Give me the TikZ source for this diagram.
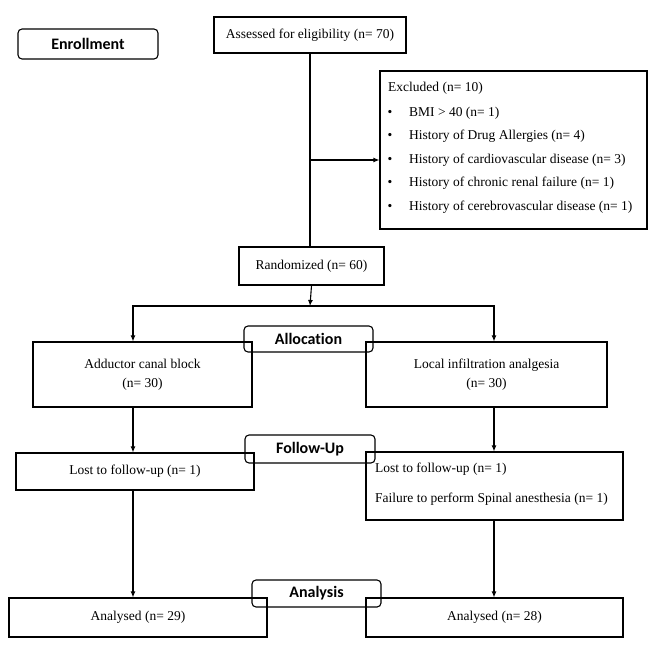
\documentclass[tikz,border=0pt]{standalone}
\usepackage{fontspec}
\setmainfont{Liberation Serif}
\newfontfamily\stagefont[Ligatures=NoCommon]{Carlito}
\usetikzlibrary{arrows.meta}

\begin{document}
\begin{tikzpicture}[x=1pt, y=-1pt, >={Latex[length=6pt,width=5pt]},
    box/.style={draw, line width=1.1pt, inner sep=2pt, align=center,
        font=\fontsize{13.5}{19}\selectfont},
    stage/.style={draw, line width=1.1pt, rounded corners=4pt, inner sep=0pt,
        font=\stagefont\bfseries\fontsize{16}{18}\selectfont},
    listtext/.style={inner sep=0pt, font=\fontsize{13.5}{15}\selectfont},
    flow/.style={->, line width=1.1pt}]

% ---------------------------------------------------------------------------
% Frame (keeps the margins of the page)
% ---------------------------------------------------------------------------
\useasboundingbox (0,0) rectangle (658,655);

% ---------------------------------------------------------------------------
% Column guides
% ---------------------------------------------------------------------------
\coordinate (lcol) at (133,0);
\coordinate (rcol) at (494,0);

% ===========================================================================
%  ENROLLMENT
% ===========================================================================
\node[stage, minimum width=140, minimum height=30] (enroll) at (88,44) {Enrollment};

\node[box, minimum width=192, minimum height=36] (assess) at (310,35)
    {Assessed for eligibility (n= 70)};

\node[box, minimum width=267, minimum height=158] (excl) at (513.5,150) {};

% Excluded list
\node[listtext, anchor=west] (excltitle) at (388,88) {Excluded (n= 10)};
\foreach \yy/\txt [count=\i] in {
    113/{BMI > 40 (n= 1)},
    136/{History of Drug Allergies (n= 4)},
    160/{History of cardiovascular disease (n= 3)},
    183/{History of chronic renal failure (n= 1)},
    207/{History of cerebrovascular disease (n= 1)}} {
    \node[listtext] (exclbullet\i) at (390,\yy) {\textbullet};
    \node[listtext, anchor=west] (exclitem\i) at (409,\yy) {\txt};
}

\node[box, minimum width=145, minimum height=38] (rand) at (311.5,266)
    {Randomized (n= 60)};

% Flow: assessed -> randomized, with side branch to the excluded box
\coordinate (exclbranch) at (310,160);
\draw[line width=1.1pt] (assess.south) -- (assess.south |- rand.north);
\draw[flow] (exclbranch) -- (excl.west |- exclbranch);

% ===========================================================================
%  ALLOCATION
% ===========================================================================
\coordinate (split) at (310,306);
\node[stage, minimum width=129, minimum height=26] (alloc) at (308.5,339) {Allocation};

\node[box, minimum width=219, minimum height=65] (acb) at (142.5,374.5)
    {Adductor canal block\\(n= 30)};
\node[box, minimum width=241, minimum height=65] (lia) at (486.5,374.5)
    {Local infiltration analgesia\\(n= 30)};

\draw[flow] (rand.south) -- (split);
\draw[flow] (split) -| (lcol |- acb.north);
\draw[flow] (split) -| (rcol |- lia.north);

% ===========================================================================
%  FOLLOW-UP
% ===========================================================================
\node[stage, minimum width=130, minimum height=28] (follow) at (310,449) {Follow-Up};

\node[box, minimum width=238, minimum height=37] (lostl) at (135,471.5)
    {Lost to follow-up (n= 1)};
\node[box, minimum width=257, minimum height=68] (lostr) at (494.5,486) {};
\node[listtext, anchor=west] (lostrone) at (375,469) {Lost to follow-up (n= 1)};
\node[listtext, anchor=west] (lostrtwo) at (375,499)
    {Failure to perform Spinal anesthesia (n= 1)};

\draw[flow] (lcol |- acb.south) -- (lcol |- lostl.north);
\draw[flow] (rcol |- lia.south) -- (rcol |- lostr.north);

% ===========================================================================
%  ANALYSIS
% ===========================================================================
\node[stage, minimum width=129, minimum height=27] (analysis) at (316.5,593.5) {Analysis};

\node[box, minimum width=258, minimum height=39] (anl) at (138,617.5)
    {Analysed (n= 29)};
\node[box, minimum width=257, minimum height=39] (anr) at (494.5,617.5)
    {Analysed (n= 28)};

\draw[flow] (lcol |- lostl.south) -- (lcol |- anl.north);
\draw[flow] (rcol |- lostr.south) -- (rcol |- anr.north);

\end{tikzpicture}
\end{document}
